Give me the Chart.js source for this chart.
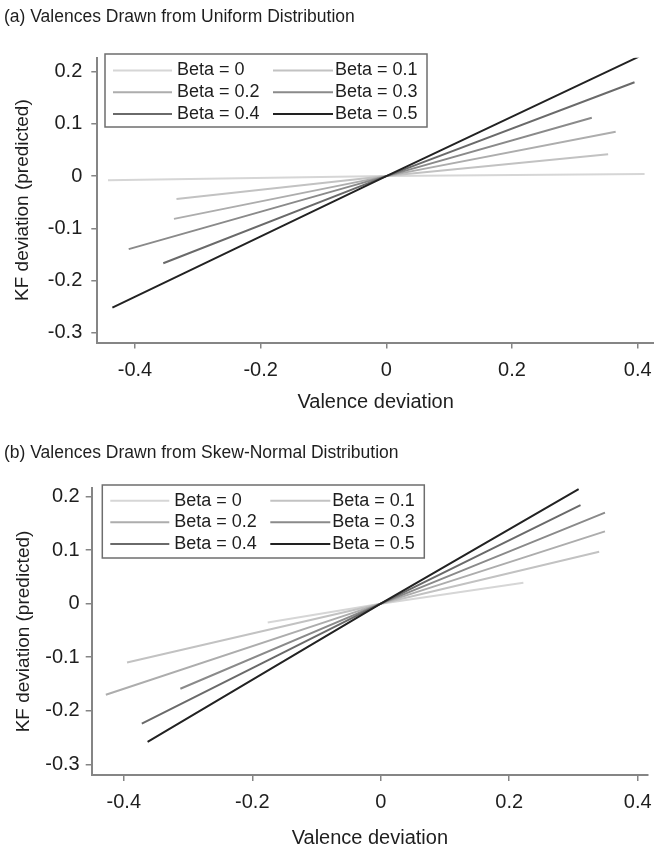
<!DOCTYPE html>
<html><head><meta charset="utf-8">
<script src="https://cdn.jsdelivr.net/npm/chart.js@4.4.1/dist/chart.umd.min.js"></script>
<style>
html,body{margin:0;padding:0;background:#fff;}
.panel{position:relative;width:654px;height:425px;}
canvas{display:block;}
</style></head><body>
<div class="panel"><canvas id="ca" width="654" height="425"></canvas></div>
<div class="panel"><canvas id="cb" width="654" height="425"></canvas></div>
<script>
// ---- data: [left end, crossing, right end] ----
const seriesLabels = ['Beta = 0','Beta = 0.1','Beta = 0.2','Beta = 0.3','Beta = 0.4','Beta = 0.5'];
const seriesColors = ['#d6d6d6','#c2c2c2','#adadad','#8a8a8a','#6a6a6a','#222222'];

const uniformX = [
  [-0.443, 0, 0.411],
  [-0.334, 0, 0.353],
  [-0.338, 0, 0.365],
  [-0.410, 0, 0.327],
  [-0.355, 0, 0.395],
  [-0.436, 0, 0.402]
];
const uniformY = [
  [-0.008, 0, 0.004],
  [-0.044, 0, 0.042],
  [-0.082, 0, 0.085],
  [-0.140, 0, 0.112],
  [-0.167, 0, 0.180],
  [-0.252, 0, 0.229]
];
const skewX = [
  [-0.176, 0, 0.222],
  [-0.395, 0, 0.340],
  [-0.428, 0, 0.349],
  [-0.312, 0, 0.349],
  [-0.372, 0, 0.311],
  [-0.363, 0, 0.308]
];
const skewY = [
  [-0.035, 0, 0.039],
  [-0.110, 0, 0.097],
  [-0.170, 0, 0.135],
  [-0.159, 0, 0.170],
  [-0.224, 0, 0.184],
  [-0.258, 0, 0.214]
];
const xTicks = [-0.4, -0.2, 0, 0.2, 0.4];
const yTicks = [0.2, 0.1, 0, -0.1, -0.2, -0.3];
const titleA = '(a) Valences Drawn from Uniform Distribution';
const titleB = '(b) Valences Drawn from Skew-Normal Distribution';
const xTitle = 'Valence deviation';
const yTitle = 'KF deviation (predicted)';

const FAM = '"Liberation Sans", Arial, Helvetica, sans-serif';
const TXT = '#1e1e1e';
const AX = '#858585';
const fmt = v => (Math.abs(v) < 1e-9 ? '0' : String(+Number(v).toFixed(1)));

const boxLegend = {
  id: 'boxLegend',
  afterDatasetsDraw(chart, args, o) {
    const {ctx, chartArea} = chart;
    const bx = chartArea.left + o.dx, by = chartArea.top + o.dy;
    ctx.save();
    ctx.fillStyle = '#fff';
    ctx.fillRect(bx, by, o.w, o.h);
    ctx.strokeStyle = '#6e6e6e';
    ctx.lineWidth = 1.5;
    ctx.strokeRect(bx, by, o.w, o.h);
    ctx.font = '18px ' + FAM;
    ctx.textBaseline = 'middle';
    ctx.textAlign = 'left';
    chart.data.datasets.forEach((ds, i) => {
      const col = i % 2, row = Math.floor(i / 2);
      const y = by + o.rows[row];
      const c = o.cols[col];
      ctx.strokeStyle = ds.borderColor;
      ctx.lineWidth = ds.borderWidth;
      ctx.beginPath(); ctx.moveTo(bx + c[0], y); ctx.lineTo(bx + c[1], y); ctx.stroke();
      ctx.fillStyle = TXT;
      ctx.fillText(ds.label, bx + c[2], y);
    });
    ctx.restore();
  }
};

function makePanel(id, title, xs, ys, d) {
  const datasets = seriesLabels.map((lab, i) => ({
    label: lab,
    data: xs[i].map((x, k) => ({x: x, y: ys[i][k]})),
    borderColor: seriesColors[i],
    backgroundColor: seriesColors[i],
    borderWidth: 2,
    pointRadius: 0,
    showLine: true,
    tension: 0,
    order: 5 - i
  }));
  new Chart(document.getElementById(id), {
    type: 'scatter',
    data: {datasets},
    plugins: [boxLegend],
    options: {
      responsive: false,
      animation: false,
      layout: {padding: {left: 4, right: d.padRight, top: 0, bottom: 0}},
      plugins: {
        legend: {display: false},
        tooltip: {enabled: false},
        title: {display: true, text: title, align: 'start', color: TXT,
          font: {family: FAM, size: 17.5, weight: 'normal'},
          padding: {top: d.titleTop, bottom: d.titleBottom}},
        boxLegend: {dx: d.legDx, dy: d.legDy, w: 322, h: 73,
          rows: d.rows, cols: [[8, 67, 72], [168, 228, 230]]}
      },
      scales: {
        x: {
          type: 'linear', min: d.xmin, max: d.xmax,
          afterBuildTicks: s => { s.ticks = xTicks.map(v => ({value: v})); },
          afterFit: s => { s.height = d.xH; s.paddingLeft = 0; s.paddingRight = 0; },
          ticks: {color: TXT, font: {family: FAM, size: 20}, padding: d.xPad,
            autoSkip: false, maxRotation: 0, callback: v => fmt(v)},
          grid: {display: true, drawOnChartArea: false, drawTicks: true, tickLength: 6, color: AX, lineWidth: 1.5},
          border: {display: true, color: AX, width: 2},
          title: {display: true, text: xTitle, color: TXT, font: {family: FAM, size: 20},
            padding: {top: 0, bottom: d.xTitlePad}}
        },
        y: {
          type: 'linear', min: d.ymin, max: d.ymax,
          afterBuildTicks: s => { s.ticks = yTicks.map(v => ({value: v})); },
          afterFit: s => { s.width = d.yW; s.paddingTop = 0; s.paddingBottom = 0; },
          ticks: {color: TXT, font: {family: FAM, size: 20}, padding: d.yPad, callback: v => fmt(v)},
          grid: {display: true, drawOnChartArea: false, drawTicks: true, tickLength: 6, color: AX, lineWidth: 1.5},
          border: {display: true, color: AX, width: 2},
          title: {display: true, text: yTitle, color: TXT, font: {family: FAM, size: 19},
            padding: {top: d.yTitlePad, bottom: 0}}
        }
      }
    }
  });
}

makePanel('ca', titleA, uniformX, uniformY, {
  xmin: -0.46, xmax: 0.426, ymin: -0.319, ymax: 0.227,
  padRight: 0, titleTop: 7, titleBottom: 29.7,
  xH: 82.5, xPad: 10, xTitlePad: 11, yW: 93.3, yPad: 9, yTitlePad: 7.6,
  legDx: 7.7, legDy: -3.7, rows: [16.5, 38.3, 60]
});
makePanel('cb', titleB, skewX, skewY, {
  xmin: -0.450, xmax: 0.416, ymin: -0.32, ymax: 0.216,
  padRight: 6, titleTop: 18, titleBottom: 24,
  xH: 75, xPad: 9.5, xTitlePad: 0, yW: 87.7, yPad: 6, yTitlePad: 8.6,
  legDx: 10.6, legDy: -3, rows: [15.7, 37.3, 59]
});
</script>
</body></html>
